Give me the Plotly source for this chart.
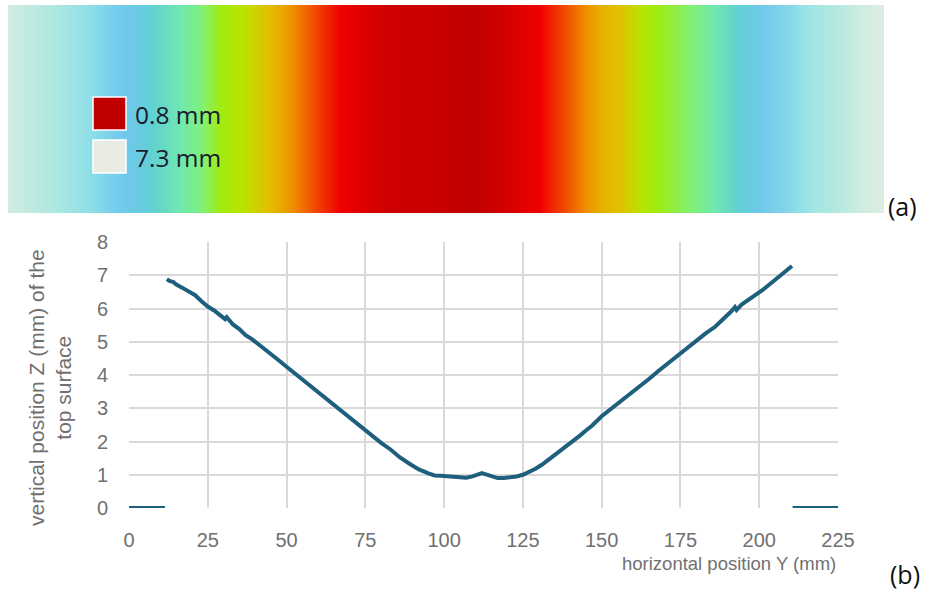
import plotly.graph_objects as go

# ---------------- data ----------------
# (b) surface profile: horizontal position Y (mm) and vertical position Z (mm)
profile_y = [12.0, 13, 14, 15, 17, 19, 21, 23, 25, 27, 29, 30.5, 31, 33, 35, 37, 39, 41, 43, 45, 47,
             50, 53, 56, 59, 62, 65, 68, 71, 74, 77, 80, 83, 86, 89, 92, 95, 97, 99, 101, 103,
             105, 107, 109, 111, 112, 113, 115, 117, 119, 121, 123, 125, 127, 129, 131, 133,
             135, 137, 139, 141, 143, 145, 147, 150, 153, 156, 159, 162, 165, 168, 171, 174,
             177, 180, 183, 186, 189, 191, 192.3, 192.8, 194.4, 198, 201, 204, 207, 210.4]
profile_z = [6.88, 6.82, 6.80, 6.72, 6.62, 6.50, 6.40, 6.22, 6.06, 5.94, 5.80, 5.68, 5.74, 5.52,
             5.38, 5.20, 5.08, 4.92, 4.78, 4.62, 4.48, 4.25, 4.02, 3.80, 3.55, 3.32, 3.10,
             2.86, 2.64, 2.42, 2.18, 1.96, 1.76, 1.52, 1.33, 1.16, 1.04, 0.98, 0.97, 0.95,
             0.93, 0.94, 0.91, 0.95, 1.02, 1.05, 1.02, 0.96, 0.90, 0.90, 0.91, 0.95, 1.00,
             1.08, 1.18, 1.30, 1.44, 1.58, 1.72, 1.87, 2.02, 2.17, 2.33, 2.48, 2.76, 2.98,
             3.20, 3.42, 3.65, 3.88, 4.12, 4.35, 4.58, 4.80, 5.02, 5.25, 5.45, 5.70, 5.90,
             6.04, 5.96, 6.12, 6.34, 6.55, 6.78, 7.02, 7.28]
# flat zero segments outside the sample
flat_left_y = [0, 11.4]
flat_left_z = [0, 0]
flat_right_y = [210.6, 225]
flat_right_z = [0, 0]

# (a) colour map of the top surface, read along the sample (position mm, height mm)
heat_pos = [12.0, 21.5, 28.3, 35.1, 38.1, 41.9, 44.2, 48.1, 51.0, 55.5, 60.1, 64.6, 69.1,
            73.7, 78.2, 82.7, 87.3, 94.1, 100.9, 107.7, 116.8, 121.3, 128.1, 132.6, 137.2,
            141.7, 146.2, 150.8, 155.3, 158.3, 166.6, 171.2, 177.3, 182.5, 188.6, 195.4,
            202.2, 210.4]
heat_z = [6.85, 6.39, 5.90, 5.30, 5.09, 4.80, 4.44, 4.30, 4.18, 3.95, 3.40, 3.10, 2.80,
          2.50, 2.15, 1.80, 1.52, 1.20, 1.00, 1.00, 0.80, 1.00, 1.30, 1.52, 1.84,
          2.20, 2.55, 2.72, 3.07, 3.35, 3.90, 4.15, 4.44, 5.09, 5.50, 6.20,
          6.60, 7.25]

x_ticks = [0, 25, 50, 75, 100, 125, 150, 175, 200, 225]
y_ticks = [0, 1, 2, 3, 4, 5, 6, 7, 8]

z_min_label = 0.8
z_max_label = 7.3

# ---------------- figure ----------------
colorscale = [
    [0.00, "#c00000"],
    [0.05, "#d20000"],
    [0.11, "#f00000"],
    [0.16, "#f04000"],
    [0.23, "#f09000"],
    [0.29, "#e2c000"],
    [0.35, "#b8e400"],
    [0.40, "#a0ec10"],
    [0.48, "#80f078"],
    [0.52, "#70e8b0"],
    [0.56, "#60d0d2"],
    [0.66, "#70c8ec"],
    [0.76, "#90e0e8"],
    [0.86, "#b0e8e0"],
    [0.93, "#d0ece0"],
    [1.00, "#e2ece0"],
]

fig = go.Figure()

fig.add_trace(go.Heatmap(
    x=heat_pos, y=[0, 1], z=[heat_z, heat_z],
    colorscale=colorscale, zmin=z_min_label, zmax=z_max_label,
    zsmooth="best", showscale=False, hoverinfo="skip",
    xaxis="x2", yaxis="y2",
))

line_color = "#1d5f7c"
for xs, zs in [(flat_left_y, flat_left_z), (profile_y, profile_z), (flat_right_y, flat_right_z)]:
    fig.add_trace(go.Scatter(
        x=xs, y=zs, mode="lines",
        line=dict(color=line_color, width=4),
        showlegend=False, xaxis="x", yaxis="y",
    ))

W, H = 930, 591
def px(x):
    return x / W
def py(y):
    return 1 - y / H

tick_font = dict(family="Liberation Sans, Arial, sans-serif", size=20, color="#707070")

fig.update_layout(
    width=W, height=H, autosize=False,
    margin=dict(l=0, r=0, t=0, b=0, pad=0, autoexpand=False),
    paper_bgcolor="white", plot_bgcolor="white",
    showlegend=False,
    xaxis=dict(
        domain=[px(129), px(838)], range=[0, 225],
        tickvals=x_ticks, showgrid=True, gridcolor="#d9d9d9", gridwidth=1.5,
        zeroline=False, showline=False, tickfont=tick_font,
        ticks="outside", ticklen=14, tickcolor="rgba(0,0,0,0)",
        anchor="y", automargin=False,
    ),
    yaxis=dict(
        domain=[py(508), py(242)], range=[0, 8],
        tickvals=y_ticks, showgrid=True, gridcolor="#d9d9d9", gridwidth=1.5,
        zeroline=False, showline=False, tickfont=tick_font,
        ticks="outside", ticklen=16, tickcolor="rgba(0,0,0,0)",
        anchor="x", automargin=False,
    ),
    xaxis2=dict(
        domain=[px(8), px(884)], range=[12, 210.4],
        visible=False, anchor="y2", automargin=False,
    ),
    yaxis2=dict(
        domain=[py(213), py(5)], range=[-0.5, 1.5],
        visible=False, anchor="x2", automargin=False,
    ),
)

# legend squares inside the heatmap
fig.add_shape(type="rect", xref="paper", yref="paper",
              x0=px(93), x1=px(126), y0=py(130), y1=py(97),
              fillcolor="#c00000", line=dict(color="white", width=1.5), layer="above")
fig.add_shape(type="rect", xref="paper", yref="paper",
              x0=px(93), x1=px(126), y0=py(173), y1=py(140),
              fillcolor="#e8ece2", line=dict(color="white", width=1.5), layer="above")

label_font = dict(family="Open Sans, sans-serif", size=24.5, color="#1a1a30")
fig.add_annotation(x=px(133), y=py(114), xref="paper", yref="paper",
                   text=f"{z_min_label} mm", showarrow=False, xanchor="left",
                   yanchor="middle", font=label_font)
fig.add_annotation(x=px(133), y=py(157), xref="paper", yref="paper",
                   text=f"{z_max_label} mm", showarrow=False, xanchor="left",
                   yanchor="middle", font=label_font)

# panel labels
panel_font = dict(family="Open Sans, sans-serif", size=25, color="#111111")
fig.add_annotation(x=px(886), y=py(206), xref="paper", yref="paper", text="(a)",
                   showarrow=False, xanchor="left", yanchor="middle", font=panel_font)
fig.add_annotation(x=px(888), y=py(574), xref="paper", yref="paper", text="(b)",
                   showarrow=False, xanchor="left", yanchor="middle", font=panel_font)

# axis titles
fig.add_annotation(x=px(50), y=py(388), xref="paper", yref="paper",
                   text="vertical position Z (mm) of the<br>top surface",
                   showarrow=False, textangle=-90, xanchor="center", yanchor="middle",
                   font=dict(family="Liberation Sans, Arial, sans-serif", size=21, color="#707070"))
fig.add_annotation(x=px(838), y=py(563), xref="paper", yref="paper",
                   text="horizontal position Y (mm)",
                   showarrow=False, xanchor="right", yanchor="middle",
                   font=dict(family="Liberation Sans, Arial, sans-serif", size=18.5, color="#707070"))

fig.write_html("out.html")
